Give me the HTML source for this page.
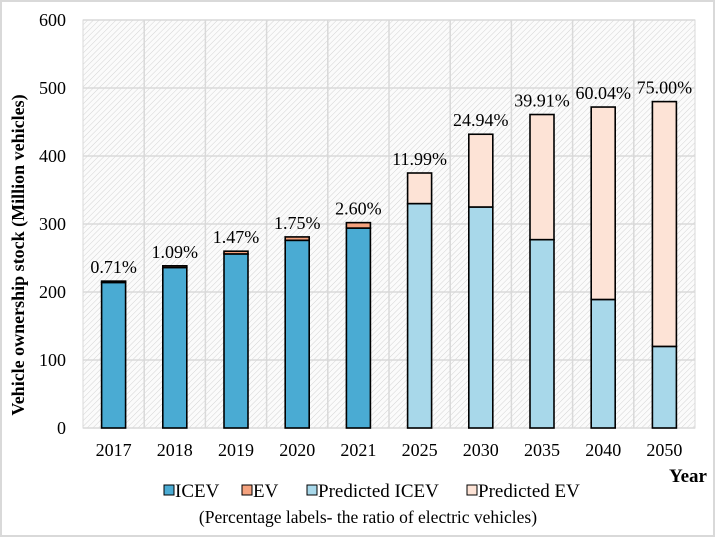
<!DOCTYPE html>
<html><head><meta charset="utf-8"><style>
body{margin:0;background:#fff;}
svg{display:block;font-family:"Liberation Serif",serif;}
</style></head><body>
<svg id="chart" width="720" height="540">
<defs>
<pattern id="hatch" patternUnits="userSpaceOnUse" width="4" height="4" patternTransform="rotate(45)">
<rect width="4" height="4" fill="#fbfbfb"/><line x1="0" y1="0" x2="0" y2="4" stroke="#d4d4d4" stroke-width="1"/>
</pattern>
</defs>
<rect x="1" y="1" width="713" height="535" fill="#fff" stroke="#d9d9d9" stroke-width="2"/>
<rect x="83" y="20" width="612" height="408" fill="url(#hatch)" stroke="#d9d9d9"/>
<g id="grid"></g><g id="bars"></g><g id="axes"></g>
<text x="688" y="482" text-anchor="middle" font-weight="bold" font-size="19">Year</text>
<text transform="translate(24,255) rotate(-90)" text-anchor="middle" font-weight="bold" font-size="18">Vehicle  ownership stock (Million vehicles)</text>
<g font-size="19">
<g><rect x="164" y="485" width="10" height="10" fill="#4aabd3" stroke="#000"/><text x="175" y="497">ICEV</text></g>
<g><rect x="242" y="485" width="10" height="10" fill="#f4a27e" stroke="#000"/><text x="253" y="497">EV</text></g>
<g><rect x="307" y="485" width="10" height="10" fill="#a8d8ea" stroke="#000"/><text x="318" y="497">Predicted ICEV</text></g>
<g><rect x="467" y="485" width="10" height="10" fill="#fde3d6" stroke="#000"/><text x="478" y="497">Predicted EV</text></g>
</g>
<text x="368" y="523" text-anchor="middle" font-size="17.5">(Percentage  labels- the ratio of electric vehicles)</text>
</svg>
<script>
const years=["2017","2018","2019","2020","2021","2025","2030","2035","2040","2050"];
const icev=[214,236,256,276,294,330,325,277,189,120];
const ev=[2,2.5,4,5,8,45,107,184,283,360];
const pctLabels=["0.71%","1.09%","1.47%","1.75%","2.60%","11.99%","24.94%","39.91%","60.04%","75.00%"];
const predicted=[false,false,false,false,false,true,true,true,true,true];
const yTicks=[0,100,200,300,400,500,600];
const NS="http://www.w3.org/2000/svg";
const L=83,R=695,T=20,B=428,ymax=600;
const y=v=>B-(v/ymax)*(B-T);
const step=(R-L)/years.length;
const xc=i=>L+step*(i+0.5);
const bw=24;
function mk(tag,attrs,parent,txt){const e=document.createElementNS(NS,tag);for(const k in attrs)e.setAttribute(k,attrs[k]);if(txt!==undefined)e.textContent=txt;parent.appendChild(e);return e;}
const grid=document.getElementById('grid'),bars=document.getElementById('bars'),axes=document.getElementById('axes');
yTicks.forEach(t=>{
 const g=mk('line',{x1:L,x2:R,y1:y(t),y2:y(t),stroke:'#d9d9d9','stroke-width':1.5},grid);
 
 
 const tl=mk('text',{x:66,y:y(t)+6,'text-anchor':'end','font-size':18},axes,String(t));
 
 
});
for(let i=1;i<years.length;i++){
 const g=mk('line',{x1:L+step*i,x2:L+step*i,y1:T,y2:B,stroke:'#d9d9d9','stroke-width':1.5},grid);
 
 
}
years.forEach((yr,i)=>{
 const x=xc(i)-bw/2;
 const c1=predicted[i]?'#a8d8ea':'#4aabd3', c2=predicted[i]?'#fde3d6':'#f4a27e';
 const a=mk('rect',{x:x,y:y(icev[i]),width:bw,height:B-y(icev[i]),fill:c1,stroke:'#000','stroke-width':1.6},bars);
 
 
 const b=mk('rect',{x:x,y:y(icev[i]+ev[i]),width:bw,height:y(icev[i])-y(icev[i]+ev[i]),fill:c2,stroke:'#000','stroke-width':1.6},bars);
 
 
 const p=mk('text',{x:xc(i),y:y(icev[i]+ev[i])-8,'text-anchor':'middle','font-size':18},bars,pctLabels[i]);
 
 
 const xl=mk('text',{x:xc(i),y:B+28,'text-anchor':'middle','font-size':18},axes,yr);
 
 
});
</script>
</body></html>
